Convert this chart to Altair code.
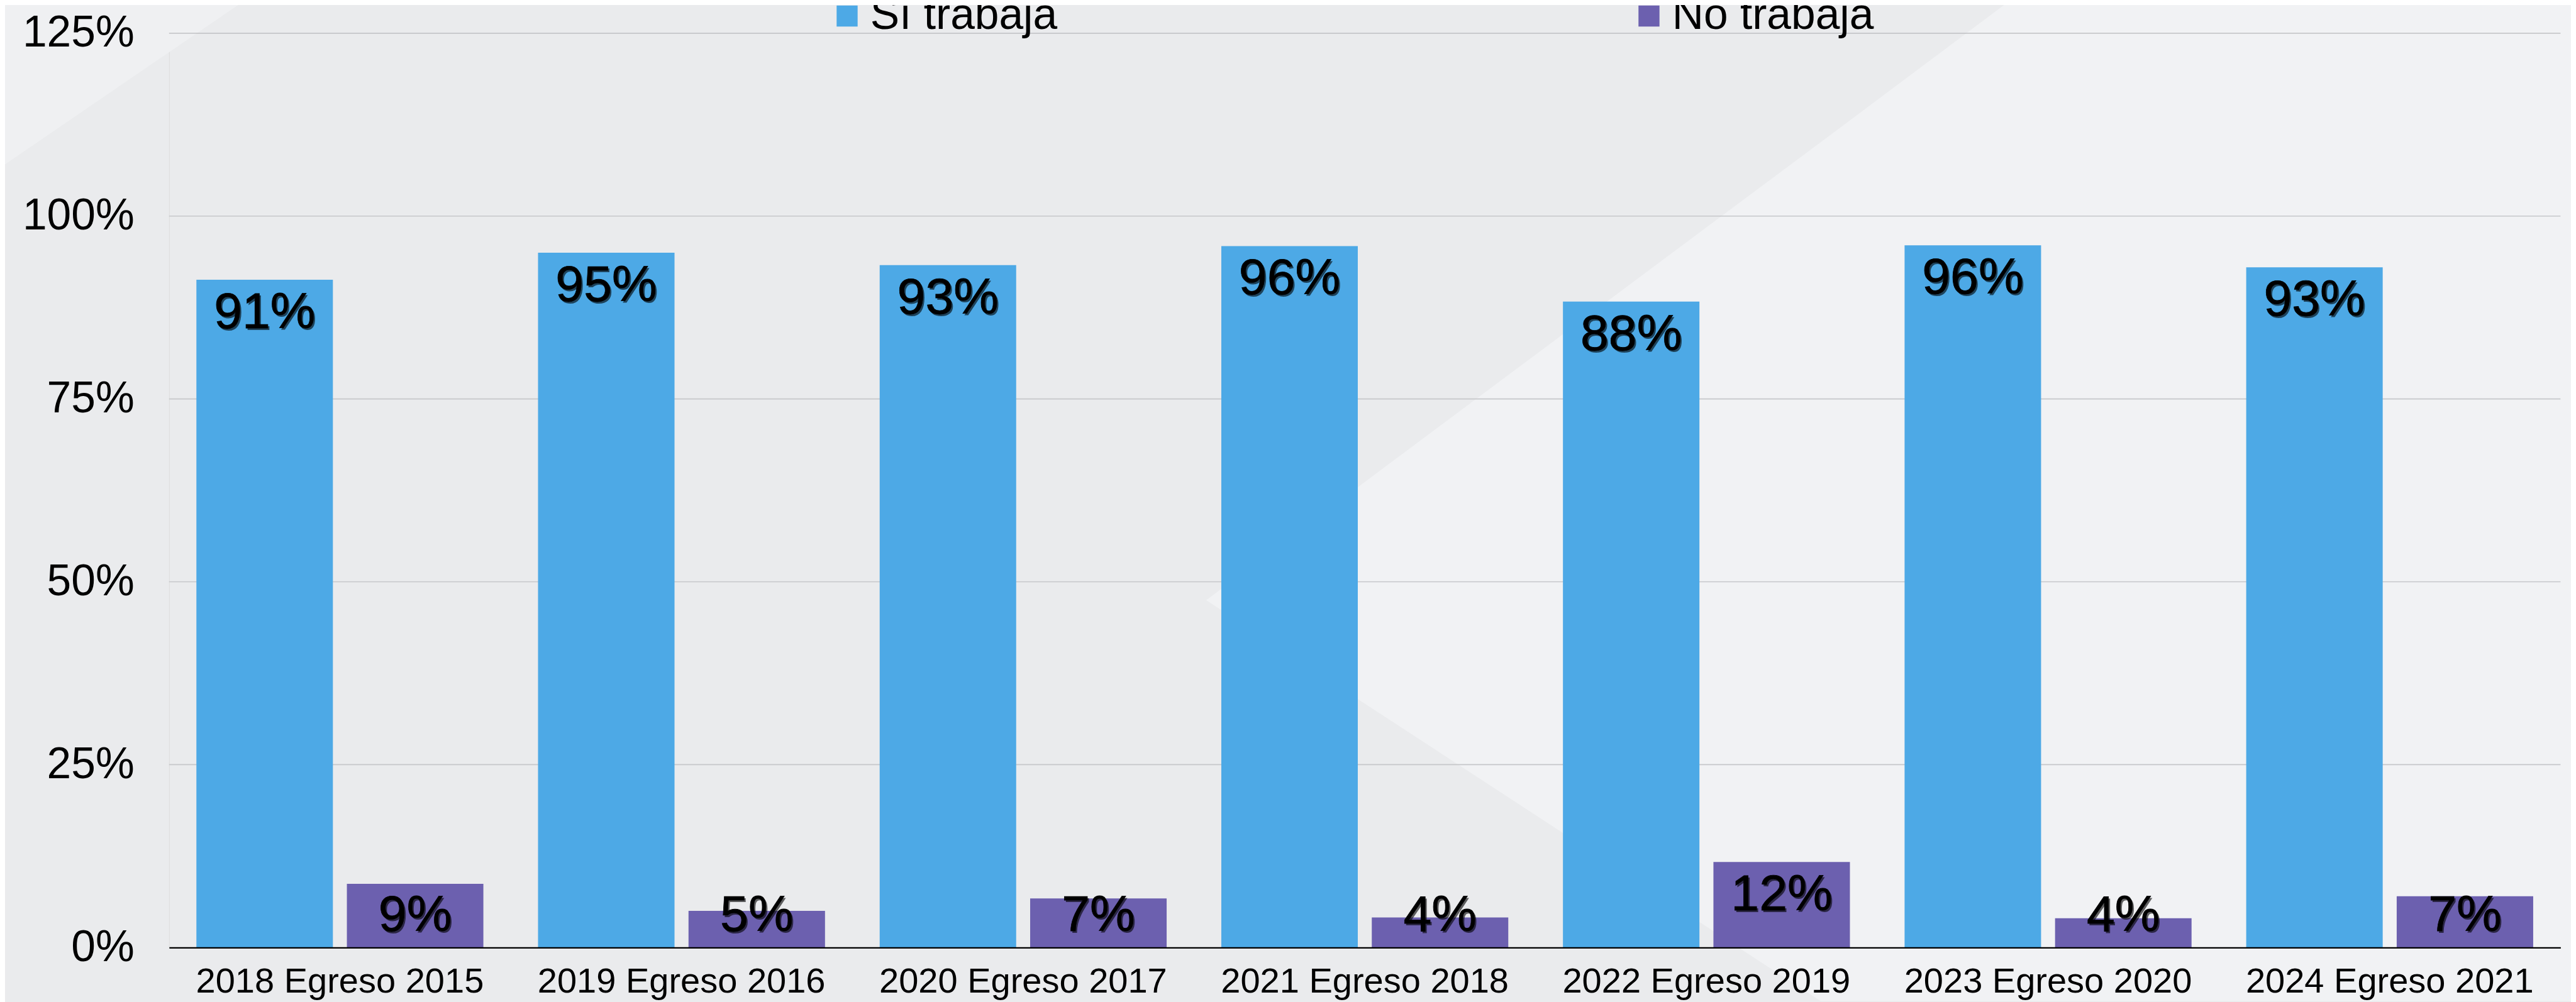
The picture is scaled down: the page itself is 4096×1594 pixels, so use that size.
import altair as alt
import pandas as pd

# ---------------- data ----------------
categories = ["2018 Egreso 2015", "2019 Egreso 2016", "2020 Egreso 2017", "2021 Egreso 2018",
              "2022 Egreso 2019", "2023 Egreso 2020", "2024 Egreso 2021"]
si_trabaja = [0.913, 0.950, 0.933, 0.959, 0.883, 0.960, 0.930]
no_trabaja = [0.087, 0.050, 0.067, 0.041, 0.117, 0.040, 0.070]
series_names = ["Sí trabaja", "No trabaja"]
series_colors = ["#4DA9E6", "#6C60AF"]
y_ticks = [0, 0.25, 0.5, 0.75, 1.0, 1.25]

# background decoration (reference-pixel coordinates of the slide's light shapes)
corner_x = [0, 421]
corner_top = [0, 0]
corner_bottom = [288, 0]
right_x = [2069, 3123, 3449, 4414]
right_top = [1030, 244, 0, 0]
right_bottom = [1030, 1718, 1718, 1718]

# ---------------- layout ----------------
S = 0.927
REF_L, REF_R, REF_T, REF_B = 290, 4392, 57, 1626
W = (REF_R - REF_L) * S
H = (REF_B - REF_T) * S
PAD_L = REF_L * S - 8
PAD_T = REF_T * S - 8
PAD_R = 4080 - PAD_L - W
PAD_B = 1586 - PAD_T - H
FONT = "Liberation Sans"

rows = []
for i, c in enumerate(categories):
    for name, vals in zip(series_names, [si_trabaja, no_trabaja]):
        v = vals[i]
        rows.append({"cat": c, "series": name, "value": v, "label": f"{round(v * 100)}%"})
df = pd.DataFrame(rows)
grid_df = pd.DataFrame({"tick": y_ticks[1:]})

corner_df = pd.DataFrame({"x": corner_x, "top": corner_top, "bottom": corner_bottom})
right_df = pd.DataFrame({"x": right_x, "top": right_top, "bottom": right_bottom})

bg_x = alt.X("x:Q", scale=alt.Scale(domain=[REF_L, REF_R], nice=False, zero=False), axis=None)
bg_y = alt.Y("top:Q", scale=alt.Scale(domain=[REF_T, REF_B], nice=False, zero=False, reverse=True), axis=None)

bg_corner = alt.Chart(corner_df).mark_area(color="#EFF0F2", interpolate="linear",
                                           strokeWidth=0).encode(
    x=bg_x, y=bg_y, y2="bottom:Q")
bg_right = alt.Chart(right_df).mark_area(color="#F1F2F4", interpolate="linear",
                                         strokeWidth=0).encode(
    x=bg_x, y=bg_y, y2="bottom:Q")

y_scale = alt.Scale(domain=[0, 1.25], nice=False)
y_axis = alt.Axis(orient="left", values=y_ticks, format=".0%", labelFontSize=69.5,
                  labelFont=FONT, labelColor="black", labelPadding=55.6,
                  ticks=False, tickSize=0, domain=False, domainOpacity=0, grid=False, zindex=1)

grid = alt.Chart(grid_df).mark_rule(color="#C6C7CA", strokeWidth=1.6).encode(
    y=alt.Y("tick:Q", scale=y_scale, axis=y_axis, title=None))

base = alt.Chart(df).encode(
    x=alt.X("cat:N", sort=categories, title=None,
            scale=alt.Scale(paddingInner=0.16, paddingOuter=0.08),
            axis=alt.Axis(orient="bottom", labelAngle=0, labelFontSize=56, labelFont=FONT,
                          labelColor="black", labelLimit=0, domain=True, domainColor="black",
                          domainWidth=2.2, ticks=False, tickSize=0, labelPadding=27,
                          grid=False, zindex=1)),
    xOffset=alt.XOffset("series:N", sort=series_names,
                        scale=alt.Scale(paddingInner=0.093, paddingOuter=0)),
)

bars = base.mark_bar().encode(
    y=alt.Y("value:Q", title=None, scale=y_scale, axis=y_axis),
    color=alt.Color("series:N", sort=series_names,
                    scale=alt.Scale(domain=series_names, range=series_colors),
                    legend=alt.Legend(orient="none", legendX=1043.4, legendY=-62.5,
                                      direction="horizontal", columns=2, title=None,
                                      symbolType="square", symbolSize=1115,
                                      symbolStrokeWidth=0, labelFontSize=69.5,
                                      labelFont=FONT, labelColor="black", labelOffset=2,
                                      labelLimit=0, columnPadding=906, padding=0)),
)

labels_base = base.transform_calculate(anchor="max(datum.value, 0.089)")
shadow = labels_base.mark_text(baseline="alphabetic", align="center", dx=2.5, dy=80,
                               fontSize=80.6, font=FONT, color="black", opacity=0.6).encode(
    y=alt.Y("anchor:Q", title=None, scale=y_scale, axis=y_axis), text="label:N")
text = labels_base.mark_text(baseline="alphabetic", align="center", dy=77,
                             fontSize=80.6, font=FONT, color="black",
                             stroke="black", strokeWidth=0.8).encode(
    y=alt.Y("anchor:Q", title=None, scale=y_scale, axis=y_axis), text="label:N")

main = alt.layer(grid, bars, shadow, text)

chart = alt.layer(bg_corner, bg_right, main).resolve_scale(
    x="independent", y="independent"
).properties(
    width=W, height=H,
    autosize=alt.AutoSizeParams(type="none"),
    padding={"left": PAD_L, "top": PAD_T, "right": PAD_R, "bottom": PAD_B},
    background="#EAEBED",
).configure_view(stroke=None, strokeWidth=0, fill=None).configure_axis(
    domain=False, grid=False
).configure_axisY(domain=False, domainOpacity=0).configure(font=FONT)

chart.save("out.html", embed_options={"renderer": "svg", "actions": False})
